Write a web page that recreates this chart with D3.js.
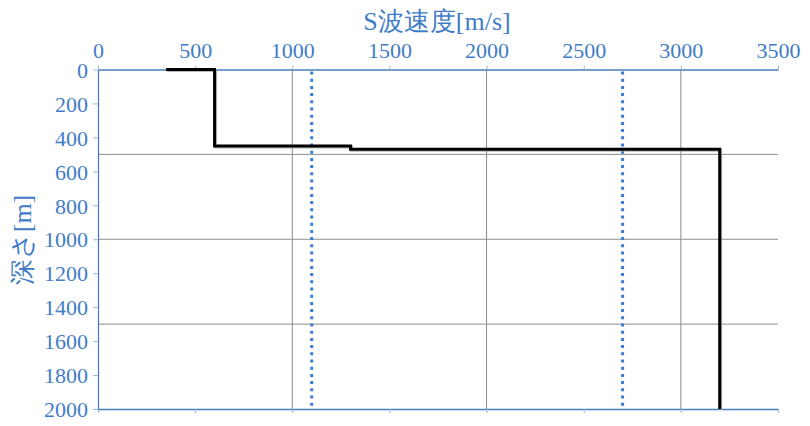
<!DOCTYPE html>
<html><head><meta charset="utf-8">
<script src="https://cdn.jsdelivr.net/npm/d3@7"></script>
<style>body{margin:0;background:#fff} text{font-family:"Liberation Serif","Times New Roman","DejaVu Serif",serif}</style>
</head><body>
<svg id="c" width="810" height="426"></svg>
<script>
const xTicks = [0,500,1000,1500,2000,2500,3000,3500];
const yTicks = [0,200,400,600,800,1000,1200,1400,1600,1800,2000];
const xGrid = [1000,2000,3000];
const yGrid = [500,1000,1500];
const profileVs = [350,600,600,1300,1300,3200,3200];
const profileDepth = [0,0,450,450,470,470,2000];
const refVs = [1100,2700];
const xTitle = "S波速度[m/s]";
const yTitle = "深さ[m]";

const blue = "#3f7cc8", axisBlue = "#4a7ebb";
const svg = d3.select("#c");
const L=98, R=778, T=69.5, B=409;
const x = d3.scaleLinear().domain([0,3500]).range([L,R]);
const y = d3.scaleLinear().domain([0,2000]).range([T,B]);
const font = '"Liberation Serif","Times New Roman","DejaVu Serif",serif';

svg.append("g").selectAll("line").data(xGrid).join("line")
  .attr("x1",d=>x(d)).attr("x2",d=>x(d)).attr("y1",T).attr("y2",B)
  .attr("stroke","#8c8c8c").attr("stroke-width",1);
svg.append("g").selectAll("line").data(yGrid).join("line")
  .attr("x1",L).attr("x2",R).attr("y1",d=>y(d)).attr("y2",d=>y(d))
  .attr("stroke","#8c8c8c").attr("stroke-width",1);

const gx = svg.append("g").attr("transform",`translate(0,${T})`)
  .call(d3.axisTop(x).tickValues(xTicks).tickSize(4).tickSizeOuter(0).tickFormat(d3.format("d")));
const gb = svg.append("g").attr("transform",`translate(0,${B})`)
  .call(d3.axisBottom(x).tickValues(xTicks).tickSize(4).tickSizeOuter(0).tickFormat(""));
const gy = svg.append("g").attr("transform",`translate(${L},0)`)
  .call(d3.axisLeft(y).tickValues(yTicks).tickSize(5).tickSizeOuter(0).tickFormat(d3.format("d")));
[gx,gb,gy].forEach(g=>{
  g.attr("font-family",font).attr("font-size",22);
  g.select(".domain").attr("stroke",axisBlue).attr("stroke-width",1.3);
  g.selectAll(".tick line").attr("stroke","#9bb6dc").attr("stroke-width",1);
  g.selectAll("text").attr("fill",blue);
});
gx.selectAll("text").attr("dy","0").attr("y",-12);
gy.selectAll("text").attr("x",-10).attr("dy","0.35em");

svg.append("g").selectAll("line").data(refVs).join("line")
  .attr("x1",d=>x(d)).attr("x2",d=>x(d)).attr("y1",T+2).attr("y2",B)
  .attr("stroke","#3a7bd5").attr("stroke-width",3).attr("stroke-dasharray","3,4.2");

const pts = profileVs.map((v,i)=>[v,profileDepth[i]]);
const line = d3.line().x(d=>x(d[0])).y(d=>y(d[1]));
svg.append("path").datum(pts).attr("d",line).attr("fill","none")
  .attr("stroke","#9a9a9a").attr("stroke-width",3).attr("transform","translate(1,1)").attr("opacity",0.7);
svg.append("path").datum(pts).attr("d",line).attr("fill","none")
  .attr("stroke","#000").attr("stroke-width",3).attr("stroke-linejoin","miter");

svg.append("text").attr("x",437).attr("y",30).attr("text-anchor","middle")
  .attr("fill",blue).attr("font-size",26).text(xTitle);
svg.append("text").attr("transform","translate(31,240) rotate(-90)").attr("text-anchor","middle")
  .attr("fill",blue).attr("font-size",26).text(yTitle);
</script>
</body></html>
